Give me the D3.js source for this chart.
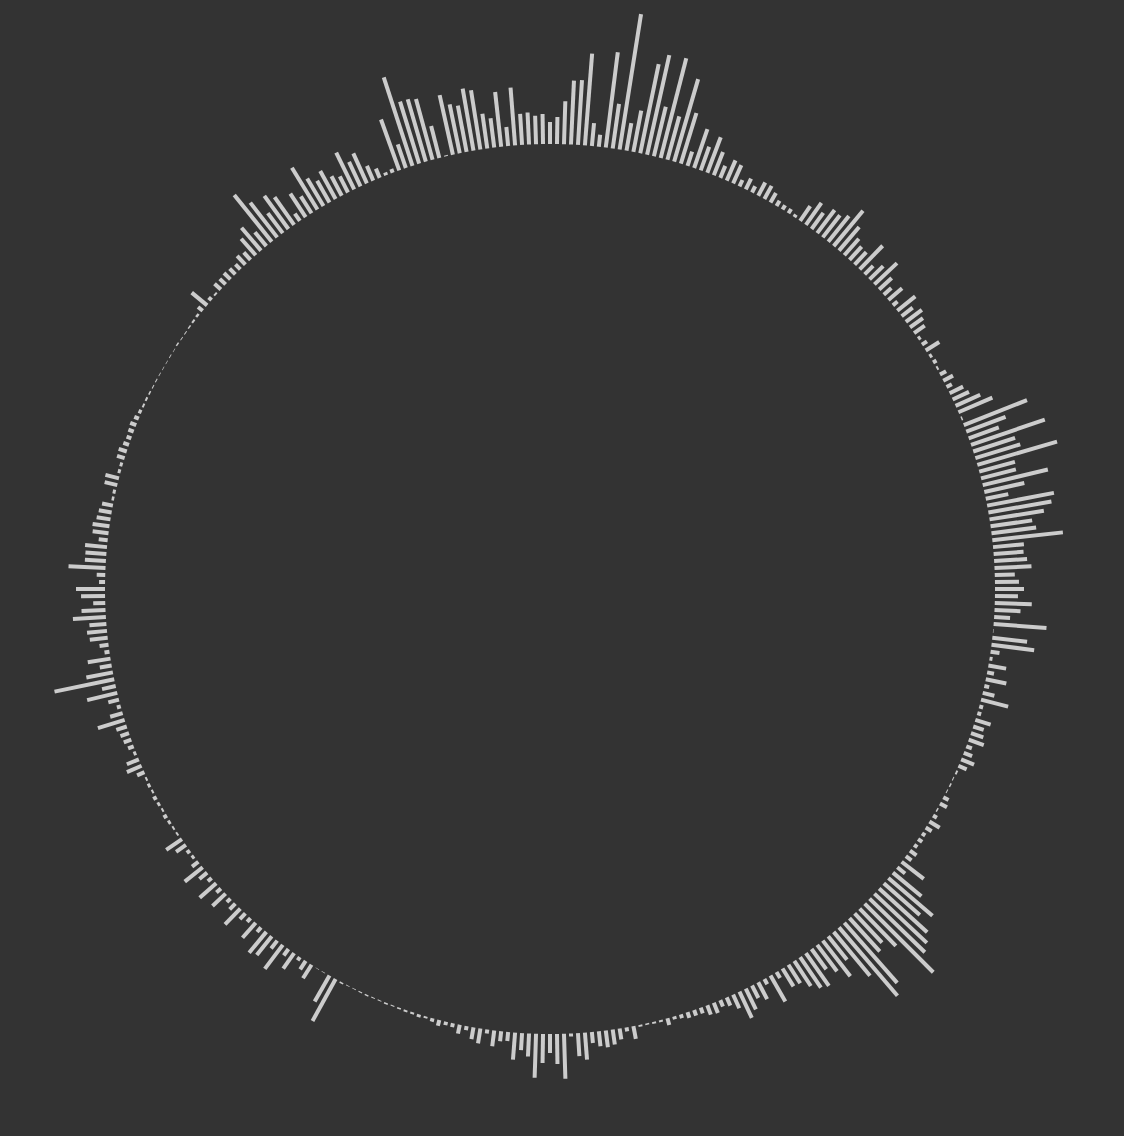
<!DOCTYPE html>
<html>
<head>
<meta charset="utf-8">
<script src="https://cdn.jsdelivr.net/npm/d3@7"></script>
<style>
  html, body { margin: 0; padding: 0; background: #333333; }
  svg { display: block; }
</style>
</head>
<body>
<div id="chart"></div>
<script>
// Bar values, one per step around the ring (clockwise from 12 o'clock)
const values = [
  22,27,43,64,65,92,23,12,96,45,
  137,28,42,91,102,51,103,45,86,53,
  15,41,25,38,25,13,22,20,7,12,
  7,15,15,11,6,5,5,3,18,27,
  20,29,28,33,46,31,22,18,17,33,
  12,19,31,17,10,18,6,23,14,20,
  16,13,3,6,16,3,4,2,7,11,
  6,15,18,27,37,1.5,68,42,32,78,
  44,47,83,37,36,67,41,23,68,64,
  55,42,45,71,31,30,33,37,20,24,
  29,23,37,26,16,53,0.5,35,43,9,
  3,18,7,21,5,12,28,4,4,16,
  11,13,16,6,9,14,9,2,1,1.5,
  1,6,8,1.5,4.5,12,7,4,5,4,
  8,7,28,10,37,58,48,65,72,77,
  97,52,40,45,80,90,57,30,45,33,
  25,40,37,30,22,21,7,30,6,19,
  14,23,29,15,9,7,11,10,6,6,
  6,4,3,7,2,2,1.5,2,13,4,
  11,15,17,15,11,27,23,3,45,30,
  19,29,44,23,17,27,9,10,16,4,
  15,12,4,9,4,3.5,6,3.5,2,3,
  2,2,1.5,1,1.5,1,1,1.5,1,0.7,
  0.7,1.5,48,30,0.5,0.5,16,10,4,19,
  8,30,10,24,27,6,20,5,8,22,
  8,5,18,6,22,5,10,23,8,3,
  4,12,19,2,2,3,4,2,3,4,
  2,3,2,8,16,13,3,6,8,9,
  11,28,13,4,11,31,14,61,27,12,
  23,5,9,18,20,17,33,24,12,24,
  29,6,8.5,37,21,21,22,9,16,17,
  14,13,11,2.6,3,13,14,3,3,8,
  8.5,6,5,5.7,6.5,5,3.3,2,2,1.5,
  1,1,0.8,0.6,0.6,0.8,0.6,1.5,0.8,1,
  1.5,2,2.5,6,20,4,2,8.6,8,9,
  8,7,12,10,22,30,18,60,44,25,
  41,34,9,28,20,49,32,25,32,22,
  18,41,27,33,16,10,3,4,54,25,
  93,65,65,63,33,1,61,50,47,63,
  60,35,29.5,55,19,58,31,32,28.5,30
];
const categories = values.map((v, i) => i);

const width = 1124, height = 1136;
const cx = 550, cy = 589;
const innerRadius = 445;
const maxBar = 137;
const barWidth = 4;

const svg = d3.select("#chart").append("svg")
  .attr("width", width).attr("height", height);

svg.append("rect").attr("width", width).attr("height", height).attr("fill", "#333333");

const angle = d3.scaleBand()
  .domain(categories)
  .range([0, 360])
  .paddingInner(0).paddingOuter(0).align(0);

const len = d3.scaleLinear()
  .domain([0, d3.max(values)])
  .range([0, maxBar]);

const g = svg.append("g").attr("transform", `translate(${cx},${cy})`);

g.selectAll("rect.bar")
  .data(values)
  .join("rect")
  .attr("class", "bar")
  .attr("x", -barWidth / 2)
  .attr("width", barWidth)
  .attr("y", d => -(innerRadius + len(d)))
  .attr("height", d => len(d))
  .attr("transform", (d, i) => `rotate(${angle(categories[i])})`)
  .attr("fill", "#cccccc");
</script>
</body>
</html>
